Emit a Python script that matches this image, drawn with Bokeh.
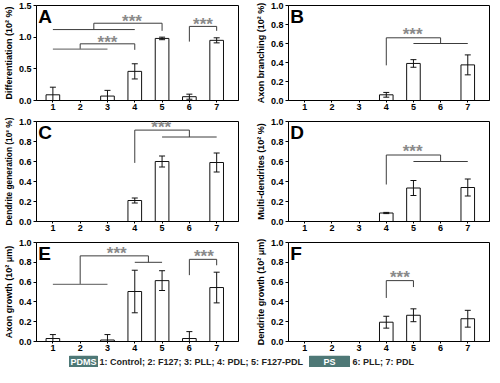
from bokeh.plotting import figure
from bokeh.layouts import column, row
from bokeh.models import FixedTicker, PrintfTickFormatter, ColumnDataSource, Range1d
from bokeh.embed import file_html
from bokeh.resources import INLINE
from bokeh.core.properties import value

FONT = "Liberation Sans"

# ---------------- data ----------------
groups = [1, 2, 3, 4, 5, 6, 7]
group_labels = ["1", "2", "3", "4", "5", "6", "7"]

diff_mean = [0.09, 0.0, 0.07, 0.46, 0.98, 0.06, 0.95]
diff_err = [0.12, 0.0, 0.09, 0.12, 0.02, 0.04, 0.04]

branch_mean = [0.0, 0.0, 0.0, 0.06, 0.39, 0.0, 0.375]
branch_err = [0.0, 0.0, 0.0, 0.025, 0.04, 0.0, 0.105]

dendgen_mean = [0.0, 0.0, 0.0, 0.21, 0.60, 0.0, 0.59]
dendgen_err = [0.0, 0.0, 0.0, 0.025, 0.055, 0.0, 0.095]

multi_mean = [0.0, 0.0, 0.0, 0.085, 0.335, 0.0, 0.34]
multi_err = [0.0, 0.0, 0.0, 0.006, 0.075, 0.0, 0.085]

axon_mean = [0.03, 0.0, 0.015, 0.505, 0.615, 0.03, 0.545]
axon_err = [0.04, 0.0, 0.055, 0.215, 0.10, 0.07, 0.155]

dgrow_mean = [0.0, 0.0, 0.0, 0.195, 0.265, 0.0, 0.23]
dgrow_err = [0.0, 0.0, 0.0, 0.06, 0.065, 0.0, 0.085]

# significance brackets (x list, y list) and star positions
A_dark = [([1, 4], [1.12, 1.12]), ([2.5, 2.5, 5, 5], [1.12, 1.22, 1.22, 1.10]),
          ([2, 2, 4, 4], [0.81, 0.895, 0.895, 0.80]), ([6, 6, 7, 7], [0.93, 1.17, 1.17, 1.10])]
A_light = [([1, 3], [0.81, 0.81])]
A_stars = [(3.9, 1.29), (3.0, 0.97), (6.5, 1.25)]

B_dark = [([4, 4, 6, 6], [0.37, 0.66, 0.66, 0.60]), ([5, 7], [0.60, 0.60])]
B_stars = [(4.97, 0.725)]

C_dark = [([4, 4, 6, 6], [0.586, 0.914, 0.914, 0.845]), ([5, 7], [0.845, 0.845])]
C_stars = [(4.97, 0.975)]

D_dark = [([4, 4, 6, 6], [0.37, 0.665, 0.665, 0.60]), ([5, 7], [0.60, 0.60])]
D_stars = [(4.97, 0.73)]

E_dark = [([2, 2, 4.5, 4.5], [0.577, 0.865, 0.865, 0.80]), ([4, 5], [0.80, 0.80]),
          ([6, 6, 7, 7], [0.67, 0.83, 0.83, 0.77])]
E_light = [([1, 3], [0.577, 0.577])]
E_stars = [(3.34, 0.92), (6.53, 0.89)]

F_dark = [([4, 4, 5, 5], [0.44, 0.615, 0.615, 0.55])]
F_stars = [(4.5, 0.68)]

ticks_A = [0.0, 0.5, 1.0, 1.5]
ticks_other = [0.0, 0.2, 0.4, 0.6, 0.8, 1.0]

legend_pdms = "PDMS"
legend_pdms_text = "1: Control; 2: F127; 3: PLL; 4: PDL; 5: F127-PDL"
legend_ps = "PS"
legend_ps_text = "6: PLL; 7: PDL"


def build(letter, ylabel, means, errs, ymax, yticks, dark, light, stars,
          width, height, bl, br, bt, bb, label_size="9px"):
    p = figure(width=width, height=height, x_range=Range1d(0.4, 7.8), y_range=Range1d(0, ymax),
               output_backend="svg", toolbar_location=None,
               min_border_left=bl, min_border_right=br, min_border_top=bt, min_border_bottom=bb)
    p.outline_line_color = "black"
    p.outline_line_width = 1
    p.outline_line_alpha = 1
    p.grid.visible = False

    xs, ms, es = [], [], []
    for g, m, e in zip(groups, means, errs):
        if m > 0 or e > 0:
            xs.append(g); ms.append(m); es.append(e)
    src = ColumnDataSource(dict(
        x=xs, top=ms,
        lo=[m - e for m, e in zip(ms, es)], hi=[m + e for m, e in zip(ms, es)],
        cl=[x - 0.11 for x in xs], cr=[x + 0.11 for x in xs]))
    p.vbar(x="x", top="top", bottom=0, width=0.5, fill_color="white",
           line_color="#111111", line_width=1, source=src)
    p.segment(x0="x", y0="lo", x1="x", y1="hi", line_color="#111111", line_width=1, source=src)
    p.segment(x0="cl", y0="hi", x1="cr", y1="hi", line_color="#111111", line_width=1, source=src)
    p.segment(x0="cl", y0="lo", x1="cr", y1="lo", line_color="#111111", line_width=1, source=src)

    for lx, ly in dark:
        p.line(lx, ly, line_color="#3c3c3c", line_width=1)
    for lx, ly in light:
        p.line(lx, ly, line_color="#7a7a7a", line_width=1.2)

    p.text(x=[s[0] for s in stars], y=[s[1] for s in stars], text=["***"] * len(stars),
           text_font=value(FONT), text_font_size="17px", text_font_style="bold",
           text_color="#8a8a8a", text_align="center", text_baseline="alphabetic", y_offset=3)

    p.text(x=[0.46], y=[ymax * 0.995], text=[letter], text_font=value(FONT),
           text_font_size="19px", text_font_style="bold", text_color="black",
           text_align="left", text_baseline="top")

    for ax in (p.xaxis, p.yaxis):
        ax.axis_line_color = "black"
        ax.axis_line_width = 1
        ax.major_tick_line_color = "black"
        ax.major_tick_in = 0
        ax.minor_tick_line_color = None
        ax.major_label_text_font = FONT
        ax.major_label_text_font_style = "bold"
        ax.major_label_text_font_size = "9px"
        ax.major_label_text_color = "black"
    p.xaxis.ticker = FixedTicker(ticks=groups)
    p.xaxis.major_label_overrides = {g: l for g, l in zip(groups, group_labels)}
    p.xaxis.major_tick_out = 2
    p.xaxis.major_label_standoff = 1
    p.yaxis.ticker = FixedTicker(ticks=yticks)
    p.yaxis.formatter = PrintfTickFormatter(format="%.1f")
    p.yaxis.major_tick_out = 3
    p.yaxis.major_label_standoff = 2
    p.yaxis.axis_label = ylabel
    p.yaxis.axis_label_text_font = FONT
    p.yaxis.axis_label_text_font_style = "bold"
    p.yaxis.axis_label_text_font_size = label_size
    p.yaxis.axis_label_text_color = "black"
    p.yaxis.axis_label_standoff = 2
    return p


LW, RW = 252, 238
pA = build("A", "Differentiation (10² %)", diff_mean, diff_err, 1.5, ticks_A, A_dark, A_light, A_stars,
           LW, 116, 29, 14, 5, 16)
pB = build("B", "Axon branching (10² %)", branch_mean, branch_err, 1.0, ticks_other, B_dark, [], B_stars,
           RW, 116, 29, 1, 5, 16)
pC = build("C", "Dendrite generation (10² %)", dendgen_mean, dendgen_err, 1.0, ticks_other, C_dark, [], C_stars,
           LW, 121, 29, 14, 5, 16, label_size="8.3px")
pD = build("D", "Multi-dendrites (10² %)", multi_mean, multi_err, 1.0, ticks_other, D_dark, [], D_stars,
           RW, 121, 29, 1, 5, 16)
pE = build("E", "Axon growth (10² μm)", axon_mean, axon_err, 1.0, ticks_other, E_dark, E_light, E_stars,
           LW, 118, 29, 14, 5, 14)
pF = build("F", "Dendrite growth (10² μm)", dgrow_mean, dgrow_err, 1.0, ticks_other, F_dark, [], F_stars,
           RW, 118, 29, 1, 5, 14)

# legend strip
lg = figure(width=490, height=12, x_range=Range1d(0, 490), y_range=Range1d(0, 12),
            output_backend="svg", toolbar_location=None, min_border=0)
lg.axis.visible = False
lg.grid.visible = False
lg.outline_line_color = None
box_color = "#4e7876"
lg.quad(left=[69, 309], right=[97, 349], bottom=[0.5, 0.5], top=[11.5, 11.5],
        fill_color=box_color, line_color=box_color)
lg.text(x=[83, 329], y=[6, 6], text=[legend_pdms, legend_ps], text_font=value(FONT),
        text_font_size="9px", text_font_style="bold", text_color="white",
        text_align="center", text_baseline="middle")
lg.text(x=[99, 352], y=[6, 6], text=[legend_pdms_text, legend_ps_text], text_font=value(FONT),
        text_font_size="9px", text_font_style="bold", text_color="#222222",
        text_align="left", text_baseline="middle")

layout = column(row(pA, pB), row(pC, pD), row(pE, pF), lg)
open("out.html", "w").write(file_html(layout, INLINE))
